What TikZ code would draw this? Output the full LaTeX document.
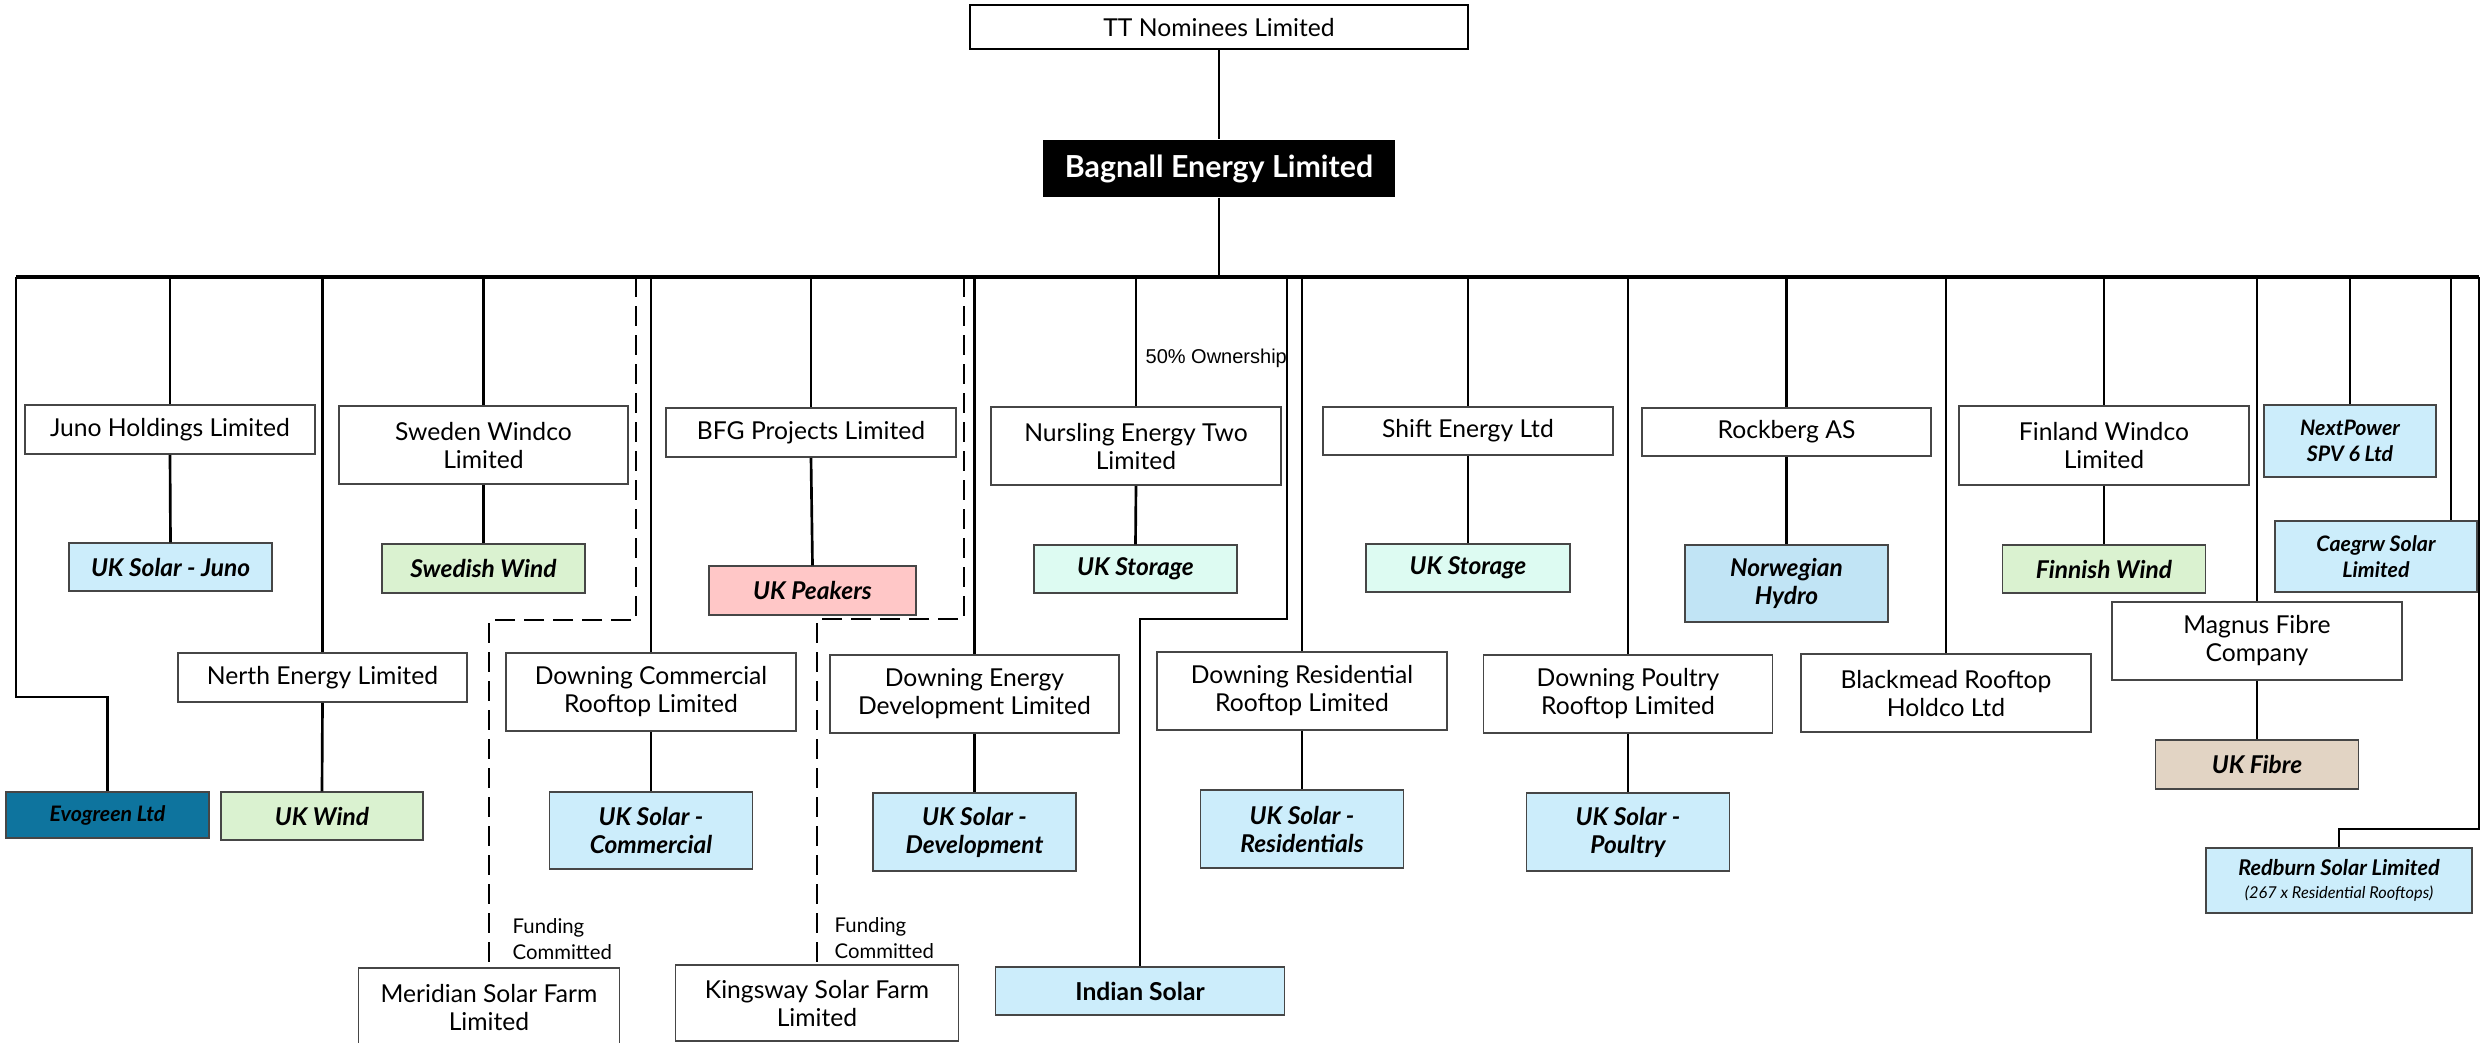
\documentclass[tikz,border=0pt]{standalone}
\usepackage{fontspec}
\setmainfont{Lato}
\newfontfamily\arialf{Liberation Sans}
\definecolor{solarblue}{RGB}{204,237,251}
\definecolor{windgreen}{RGB}{218,242,208}
\definecolor{peakpink}{RGB}{255,199,199}
\definecolor{storemint}{RGB}{221,251,242}
\definecolor{hydroblue}{RGB}{193,228,245}
\definecolor{evoteal}{RGB}{14,116,158}
\definecolor{fibretan}{RGB}{226,212,196}
\definecolor{boxline}{RGB}{70,70,70}
\begin{document}
\begin{tikzpicture}[x=0.3pt,y=-0.3pt,
  sz/.style 2 args={minimum width=#1*0.3pt,minimum height=#2*0.3pt},
  ent/.style={draw=boxline,line width=0.45pt,fill=white,inner sep=0pt,align=center,
    font=\fontsize{7.4}{8.4}\selectfont},
  col/.style={ent,font=\fontsize{7.35}{8.4}\selectfont\bfseries\itshape},
  smallcol/.style={ent,font=\fontsize{6.4}{7.8}\selectfont\bfseries\itshape},
  lbl/.style={inner sep=0pt,anchor=west,align=left},
  ln/.style={line width=0.8pt},
  dln/.style={line width=0.8pt,dash pattern=on 6pt off 2.7pt},
]
\useasboundingbox (0,0) rectangle (2481,1042);
\clip (0,0) rectangle (2481,1042);

% top
\node[ent,sz={498}{44},draw=black,line width=0.7pt] (tt) at (1219,27) {TT Nominees Limited};
\node[sz={352}{57},fill=black,text=white,inner sep=0pt,font=\fontsize{9.1}{10}\selectfont\bfseries] (bag) at (1219,168.5) {Bagnall Energy Limited};

% bus
\coordinate (busL) at (16,277);
\coordinate (busR) at (2479,277);
\coordinate (busM) at (1219,277);

% entities
\node[ent,sz={290}{49}] (juno) at (170,429.5) {Juno Holdings Limited};
\node[col,sz={203}{48},fill=solarblue] (uksjuno) at (170.5,567) {UK Solar - Juno};
\node[ent,sz={289}{78}] (sweden) at (483.5,445) {Sweden Windco\\Limited};
\node[col,sz={203}{49},fill=windgreen] (swwind) at (483.5,568.5) {Swedish Wind};
\node[ent,sz={289}{49}] (nerth) at (322.5,677.5) {Nerth Energy Limited};
\node[col,sz={202}{48},fill=windgreen] (ukwind) at (322,816) {UK Wind};
\node[smallcol,sz={203}{46},fill=evoteal] (evo) at (107.5,815) {Evogreen Ltd};
\node[ent,sz={290}{78}] (dc) at (651,692) {Downing Commercial\\Rooftop Limited};
\node[col,sz={203}{77},fill=solarblue] (ukscom) at (651,830.5) {UK Solar -\\Commercial};
\node[ent,sz={261}{78}] (meridian) at (489,1007) {Meridian Solar Farm\\Limited};
\node[ent,sz={290}{49}] (bfg) at (811,432.5) {BFG Projects Limited};
\node[col,sz={207}{49},fill=peakpink] (peak) at (812.5,590.5) {UK Peakers};
\node[ent,sz={289}{78}] (de) at (974.5,694) {Downing Energy\\Development Limited};
\node[col,sz={203}{78},fill=solarblue] (uksdev) at (974.5,832) {UK Solar -\\Development};
\node[ent,sz={283}{76}] (kings) at (817,1003) {Kingsway Solar Farm\\Limited};
\node[ent,sz={290}{78}] (nurs) at (1136,446) {Nursling Energy Two\\Limited};
\node[col,sz={203}{48},fill=storemint] (ukstor1) at (1135.5,569) {UK Storage};
\node[ent,sz={289}{48},fill=solarblue,font=\fontsize{7.4}{8.4}\selectfont\bfseries] (indian) at (1140,991) {Indian Solar};
\node[ent,sz={290}{78}] (dr) at (1302,691) {Downing Residential\\Rooftop Limited};
\node[col,sz={203}{78},fill=solarblue] (uksres) at (1302,829) {UK Solar -\\Residentials};
\node[ent,sz={290}{48}] (shift) at (1468,431) {Shift Energy Ltd};
\node[col,sz={204}{48},fill=storemint] (ukstor2) at (1468,568) {UK Storage};
\node[ent,sz={289}{78}] (dp) at (1628,694) {Downing Poultry\\Rooftop Limited};
\node[col,sz={203}{78},fill=solarblue] (ukspoul) at (1628,832) {UK Solar -\\Poultry};
\node[ent,sz={289}{48}] (rock) at (1786.5,432) {Rockberg AS};
\node[col,sz={203}{77},fill=hydroblue] (hydro) at (1786.5,583.5) {Norwegian\\Hydro};
\node[ent,sz={290}{78}] (black) at (1946,693) {Blackmead Rooftop\\Holdco Ltd};
\node[ent,sz={290}{79}] (fin) at (2104,445.5) {Finland Windco\\Limited};
\node[col,sz={203}{48},fill=windgreen] (finwind) at (2104,569) {Finnish Wind};
\node[smallcol,sz={172}{72},fill=solarblue] (next) at (2350,441) {NextPower\\SPV 6 Ltd};
\node[smallcol,sz={202}{71},fill=solarblue] (caeg) at (2376,556.5) {Caegrw Solar\\Limited};
\node[ent,sz={290}{78}] (magnus) at (2257,641) {Magnus Fibre\\Company};
\node[col,sz={203}{49},fill=fibretan] (ukfibre) at (2257,764.5) {UK Fibre};
\node[ent,sz={266}{65},fill=solarblue,font=\fontsize{6.5}{7.4}\selectfont\bfseries\itshape] (red) at (2339,880.5) {Redburn Solar Limited\\[-0.5pt]{\fontsize{4.9}{6}\selectfont\mdseries (267 x Residential Rooftops)}};

% labels
\node[lbl,font=\arialf\fontsize{6}{7}\selectfont] (own) at (1145,358) {50\% Ownership};
\node[lbl,font=\fontsize{6.1}{7.8}\selectfont] (fund1) at (512,939) {Funding\\Committed};
\node[lbl,font=\fontsize{6.1}{7.8}\selectfont] (fund2) at (834,938) {Funding\\Committed};

% connectors
\draw[ln] (tt.south) -- (bag.north);
\draw[ln] (bag.south) -- (busM);
\draw[line width=1pt] (busL) -- (busR);

\draw[ln] (busL) |- (evo.north |- 0,697) -- (evo.north);
\draw[ln] (juno.north |- busL) -- (juno.north);
\draw[ln] (juno.south) -- (uksjuno.north);
\draw[ln] (nerth.north |- busL) -- (nerth.north);
\draw[ln] (nerth.south) -- (ukwind.north);
\draw[ln] (sweden.north |- busL) -- (sweden.north);
\draw[ln] (sweden.south) -- (swwind.north);
\draw[dln] (636,277) |- (meridian.north |- 0,620) -- (meridian.north);
\draw[ln] (dc.north |- busL) -- (dc.north);
\draw[ln] (dc.south) -- (ukscom.north);
\draw[ln] (bfg.north |- busL) -- (bfg.north);
\draw[ln] (bfg.south) -- (peak.north);
\draw[dln] (964,277) |- (kings.north |- 0,619) -- (kings.north);
\draw[ln] (de.north |- busL) -- (de.north);
\draw[ln] (de.south) -- (uksdev.north);
\draw[ln] (nurs.north |- busL) -- (nurs.north);
\draw[ln] (nurs.south) -- (ukstor1.north);
\draw[ln] (1287,277) |- (indian.north |- 0,619) -- (indian.north);
\draw[ln] (dr.north |- busL) -- (dr.north);
\draw[ln] (dr.south) -- (uksres.north);
\draw[ln] (shift.north |- busL) -- (shift.north);
\draw[ln] (shift.south) -- (ukstor2.north);
\draw[ln] (dp.north |- busL) -- (dp.north);
\draw[ln] (dp.south) -- (ukspoul.north);
\draw[ln] (rock.north |- busL) -- (rock.north);
\draw[ln] (rock.south) -- (hydro.north);
\draw[ln] (black.north |- busL) -- (black.north);
\draw[ln] (fin.north |- busL) -- (fin.north);
\draw[ln] (fin.south) -- (finwind.north);
\draw[ln] (magnus.north |- busL) -- (magnus.north);
\draw[ln] (magnus.south) -- (ukfibre.north);
\draw[ln] (next.north |- busL) -- (next.north);
\coordinate (cgx) at (2451,277);
\draw[ln] (cgx) -- (caeg.north -| cgx);
\draw[ln] (busR) |- (red.north |- 0,829) -- (red.north);
\end{tikzpicture}
\end{document}
